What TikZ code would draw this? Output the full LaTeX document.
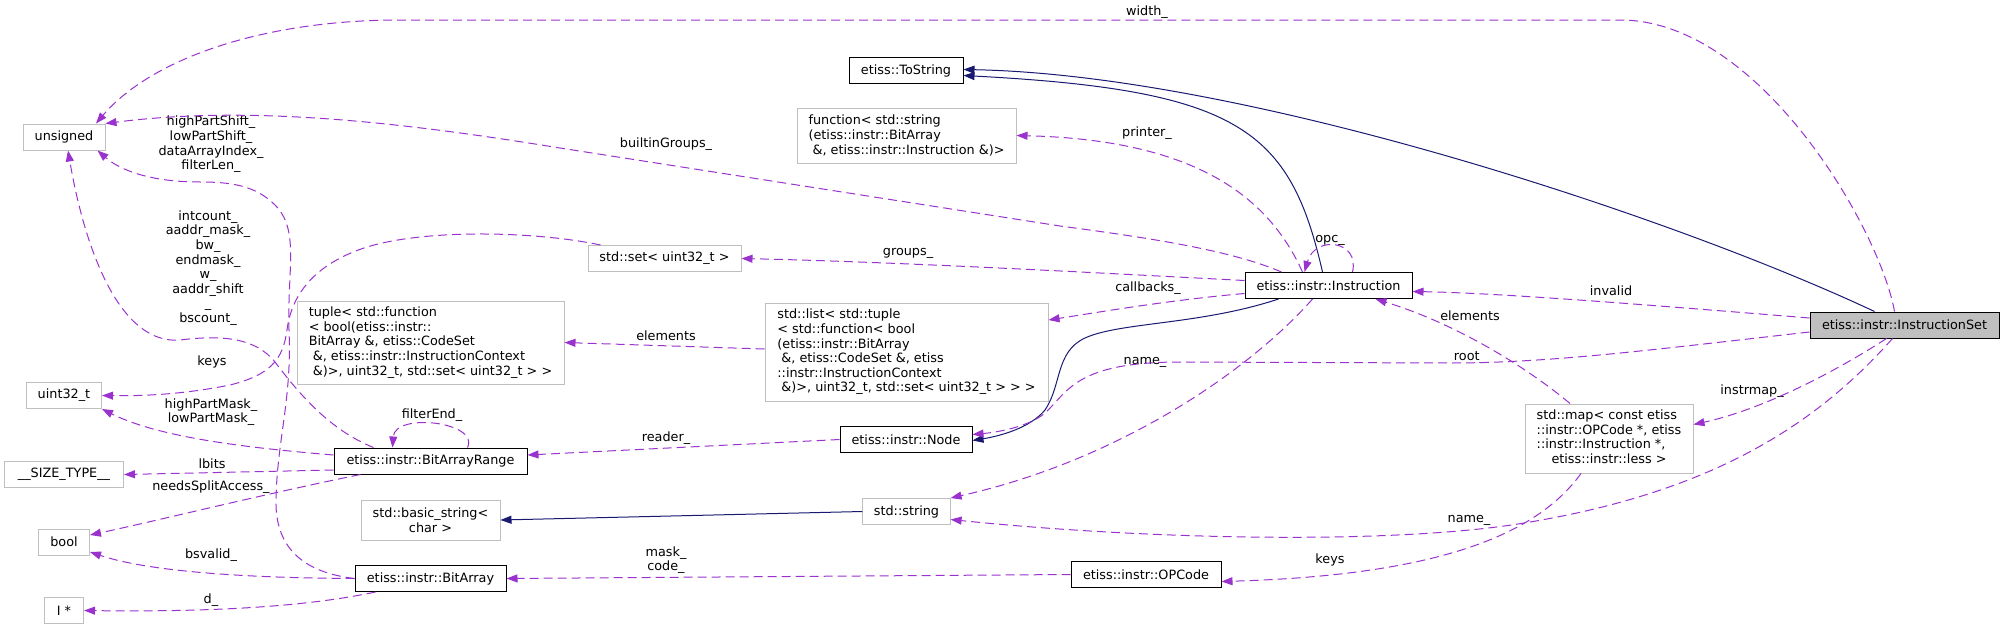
\documentclass[tikz,border=0pt]{standalone}
\usepackage{fontspec}
\setmainfont{DejaVu Sans}
\usepackage{tikz}
\usetikzlibrary{arrows.meta}
\definecolor{DoxyPurple}{HTML}{9A32CD}
\definecolor{DoxyNavy}{HTML}{191970}
\definecolor{DoxyGrey}{HTML}{BFBFBF}

\begin{document}
\begin{tikzpicture}[x=1pt, y=-1pt,
  every node/.style={align=center, font=\fontsize{12.8}{14.6}\selectfont},
  cls/.style={draw=black, fill=white, line width=1pt, inner xsep=11pt, inner ysep=3pt, minimum height=26pt},
  ext/.style={cls, draw=DoxyGrey},
  cur/.style={cls, fill=DoxyGrey},
  lbl/.style={inner sep=0pt},
  member/.style={draw=DoxyPurple, line width=1pt, dash pattern=on 9pt off 5pt, -{Triangle[length=11pt,width=8pt]}},
  inherit/.style={draw=DoxyNavy, line width=1pt, -{Triangle[length=11pt,width=8pt]}}]
  \useasboundingbox (0,0) rectangle (2004,629);

  \foreach \nm/\txt/\y/\w in {unsigned/unsigned/137/82, uint/uint32\_t/395.5/75,
      sizetype/\_\_SIZE\_TYPE\_\_/474.5/119, boolt/bool/542/51, iptr/I */610.5/39}
    \node[ext, minimum width=\w pt] (\nm) at (64,\y) {\txt};

  \node[cls, minimum width=114pt] (tostring) at (906,70.5) {etiss::ToString};
  \node[ext, minimum width=219pt, minimum height=55pt, align=left] (printerfn) at (906.5,135.5)
    {function< std::string\\(etiss::instr::BitArray\\\ \&, etiss::instr::Instruction \&)>};
  \node[ext, minimum width=153pt] (uintset) at (664.5,258.5) {std::set< uint32\_t >};
  \node[ext, minimum width=267pt, minimum height=83pt, align=left] (tuple) at (430.5,342.5)
    {tuple< std::function\\< bool(etiss::instr::\\BitArray \&, etiss::CodeSet\\\ \&, etiss::instr::InstructionContext\\\ \&)>, uint32\_t, std::set< uint32\_t > >};
  \node[ext, minimum width=283pt, minimum height=98pt, align=left] (cblist) at (906.5,352)
    {std::list< std::tuple\\< std::function< bool\\(etiss::instr::BitArray\\\ \&, etiss::CodeSet \&, etiss\\::instr::InstructionContext\\\ \&)>, uint32\_t, std::set< uint32\_t > > >};
  \node[cls, minimum width=193pt] (bitrange) at (430.5,461) {etiss::instr::BitArrayRange};
  \node[ext, minimum width=139pt, minimum height=40pt] (basicstr) at (430.5,520) {std::basic\_string<\\char >};
  \node[cls, minimum width=151pt] (bitarray) at (430.5,578.5) {etiss::instr::BitArray};
  \node[cls, minimum width=132pt] (instrnode) at (906,439.5) {etiss::instr::Node};
  \node[ext, minimum width=87pt] (stdstring) at (906.5,511.5) {std::string};
  \node[cls, minimum width=150pt] (opcode) at (1146,574.5) {etiss::instr::OPCode};
  \node[cls, minimum width=167pt] (instr) at (1328.5,285.5) {etiss::instr::Instruction};
  \node[ext, minimum width=168pt, minimum height=69pt] (instrmap) at (1609,438.5)
    {\begin{tabular}{@{}l@{}}std::map< const etiss\\::instr::OPCode *, etiss\\::instr::Instruction *,\\\multicolumn{1}{@{}c@{}}{etiss::instr::less >}\end{tabular}};
  \node[cur, minimum width=189pt] (instrset) at (1904.5,325) {etiss::instr::InstructionSet};

  \foreach \nm/\txt/\x/\y in {lw/{width\_}/1147/12, lbg/{builtinGroups\_}/666/144,
      lhps/{highPartShift\_\\lowPartShift\_\\dataArrayIndex\_\\filterLen\_}/211/144.5,
      lic/{intcount\_\\aaddr\_mask\_\\bw\_\\endmask\_\\w\_\\aaddr\_shift\\\_\\bscount\_}/208/268,
      lka/keys/212/362, lhpm/{highPartMask\_\\lowPartMask\_}/211/412, lfe/{filterEnd\_}/432/415,
      llb/lbits/212/464, lnsa/{needsSplitAccess\_}/211/487, lbsv/{bsvalid\_}/211/555, ld/{d\_}/211/600,
      lpr/{printer\_}/1147/133, lgr/{groups\_}/908/253, lela/elements/666/336, lrd/{reader\_}/666/438,
      lmc/{mask\_\\code\_}/666/560, lcb/{callbacks\_}/1148/288, lop/{opc\_}/1330/240,
      lnma/{name\_}/1145/362, lrt/{root\_}/1470/358, lelb/elements/1470/316, linv/invalid/1611/291,
      lim/{instrmap\_}/1752/391, lnmb/{name\_}/1469/520, lkb/keys/1330/560}
    \node[lbl] (\nm) at (\x,\y) {\txt};

  \draw[inherit] ([xshift=-30pt]instrset.north) .. controls (1680,220) and (1250,75) .. ([yshift=1pt]tostring.east);
  \draw[inherit] ([xshift=-6pt]instr.north) .. controls (1290,130) and (1240,90) .. ([yshift=-5pt]tostring.east);
  \draw[inherit] ([xshift=-50pt]instr.south) .. controls (1200,325) and (1120,322) .. (1085,338)
    .. controls (1055,352) and (1062,385) .. (1045,410) .. controls (1030,428) and (1000,436) .. ([yshift=-1pt]instrnode.east);
  \draw[inherit] (stdstring.west) -- (basicstr.east);

  \draw[member] ([xshift=-10pt]instrset.north) .. controls (1880,230) and (1760,20) .. (1620,20) -- (400,20)
    .. controls (260,20) and (150,60) .. ([xshift=32pt]unsigned.north);
  \draw[member] ([xshift=-47pt]instr.north) .. controls (1230,250) and (1150,238) .. (1060,226) -- (560,148)
    .. controls (400,122) and (250,105) .. (unsigned.north east);
  \draw[member] (bitarray.west) .. controls (300,572) and (275,545) .. (276,500) .. controls (277,440) and (292,400) .. (289,330)
    .. controls (287,270) and (300,230) .. (275,205) .. controls (255,185) and (230,182) .. (200,182)
    .. controls (150,182) and (120,170) .. ([xshift=-8pt]unsigned.south east);
  \draw[member] ([xshift=-57pt]bitrange.north) .. controls (330,430) and (300,395) .. (275,362)
    .. controls (255,337) and (220,335) .. (180,340) .. controls (120,345) and (85,250) .. ([xshift=4pt]unsigned.south);
  \draw[member] ([xshift=-64pt]uintset.north) .. controls (540,232) and (430,228) .. (367,247)
    .. controls (320,262) and (292,290) .. (287,330) .. controls (283,360) and (270,375) .. (230,385)
    .. controls (180,395) and (140,396) .. (uint.east);
  \draw[member] ([yshift=6pt]bitrange.west) .. controls (250,448) and (160,438) .. (uint.south east);
  \draw[member] ([yshift=-9pt]bitrange.west) -- (sizetype.east);
  \draw[member] ([xshift=-70pt]bitrange.south) .. controls (260,495) and (160,520) .. ([yshift=7pt]boolt.east);
  \draw[member] (bitarray.west) .. controls (250,578) and (150,572) .. ([yshift=-10pt]boolt.east);
  \draw[member] ([xshift=-55pt]bitarray.south) .. controls (300,608) and (200,612) .. (iptr.east);
  \draw[member] ([xshift=37pt]bitrange.north) .. controls (480,422) and (395,412) .. ([xshift=-38pt]bitrange.north);
  \draw[member] ([yshift=3pt]cblist.west) -- (tuple.east);
  \draw[member] (instrnode.west) -- ([yshift=6pt]bitrange.east);
  \draw[member] (opcode.west) -- (bitarray.east);
  \draw[member] ([yshift=5pt]instr.west) .. controls (1100,273) and (900,262) .. (uintset.east);
  \draw[member] ([yshift=-8pt]instr.west) .. controls (1170,300) and (1100,312) .. ([yshift=32pt]cblist.east);
  \draw[member] ([xshift=-26pt]instr.north) .. controls (1270,200) and (1200,140) .. (printerfn.east);
  \draw[member] ([xshift=24pt]instr.north) .. controls (1360,240) and (1315,235) .. ([xshift=-24pt]instr.north);
  \draw[member] ([xshift=-16pt]instr.south) .. controls (1250,370) and (1120,460) .. (stdstring.north east);
  \draw[member] ([yshift=-7pt]instrset.west) .. controls (1650,350) and (1550,363) .. (1450,363) -- (1180,362)
    .. controls (1075,362) and (1068,392) .. (1045,413) .. controls (1030,426) and (1000,432) .. ([yshift=5pt]instrnode.east);
  \draw[member] ([yshift=7pt]instrset.west) .. controls (1650,305) and (1500,293) .. ([yshift=-6pt]instr.east);
  \draw[member] ([xshift=-39pt]instrmap.north) .. controls (1530,370) and (1460,325) .. ([xshift=47pt]instr.south);
  \draw[member] ([xshift=-18pt]instrset.south) .. controls (1830,375) and (1760,410) .. ([yshift=14pt]instrmap.east);
  \draw[member] ([xshift=-12pt]instrset.south) .. controls (1820,420) and (1720,490) .. (1530,522)
    .. controls (1400,545) and (1150,540) .. ([yshift=-8pt]stdstring.east);
  \draw[member] ([xshift=-28pt]instrmap.south) .. controls (1540,530) and (1450,575) .. ([yshift=-7pt]opcode.east);
\end{tikzpicture}
\end{document}
